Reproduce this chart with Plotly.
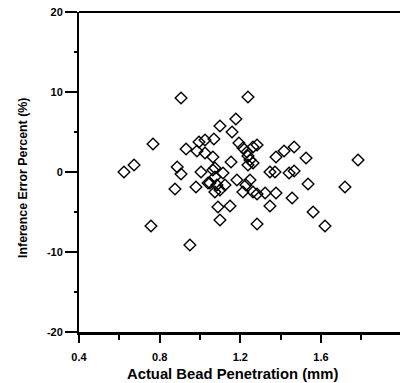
import plotly.graph_objects as go

penetration_mm = [0.623, 0.673, 0.767, 0.757, 0.906, 0.931, 0.887, 0.906, 0.876, 0.950,
                  0.980, 0.985, 0.995, 1.005, 1.025, 1.025, 1.040, 1.069, 1.099, 1.178,
                  1.159, 1.238, 1.193, 1.283, 1.263, 1.213, 1.233, 1.238, 1.248, 1.064,
                  1.154, 1.238, 1.263, 1.074, 1.064, 1.074, 1.114, 1.049, 1.084, 1.124,
                  1.099, 1.074, 1.183, 1.248, 1.228, 1.213, 1.263, 1.283, 1.323, 1.377,
                  1.347, 1.372, 1.442, 1.467, 1.467, 1.417, 1.377, 1.526, 1.784, 1.536,
                  1.719, 1.457, 1.347, 1.089, 1.149, 1.099, 1.283, 1.561, 1.620]
error_pct = [0.0, 0.875, 3.5, -6.75, 9.25, 2.875, 0.625, -0.25, -2.125, -9.125,
             -1.875, 2.625, 3.75, 0.0, 4.0, 2.375, -1.375, 4.125, 5.75, 6.625,
             5.0, 9.375, 3.625, 3.375, 3.125, 3.0, 2.5, 2.0, 1.5, 1.875,
             1.25, 0.875, 1.125, 0.5, 0.25, -0.625, -0.125, -1.375, -1.625, -1.625,
             -2.25, -2.5, -1.0, -1.0, -1.625, -2.5, -2.5, -2.75, -2.625, -2.625,
             0.0, 0.0, -0.125, 0.125, 3.125, 2.625, 1.875, 1.75, 1.5, -1.5,
             -1.875, -3.25, -4.25, -4.375, -4.25, -6.0, -6.5, -5.0, -6.75]

x_ticks = [0.4, 0.8, 1.2, 1.6]
y_ticks = [-20, -10, 0, 10, 20]
x_title = "Actual Bead Penetration (mm)"
y_title = "Inference Error Percent (%)"

fig = go.Figure()
fig.add_trace(go.Scatter(
    x=penetration_mm, y=error_pct, mode="markers",
    marker=dict(symbol="diamond-open", size=9, color="black", line=dict(width=1.4, color="black")),
    showlegend=False, cliponaxis=False,
))

font_bold = "Liberation Sans"
fig.update_layout(
    width=400, height=383,
    margin=dict(l=79, r=0, t=12, b=51),
    plot_bgcolor="white", paper_bgcolor="white",
    font=dict(family=font_bold, color="black"),
)
fig.update_xaxes(
    range=[0.4, 1.992], tickvals=x_ticks, ticktext=[f"<b>{v}</b>" for v in x_ticks],
    showline=True, linecolor="black", linewidth=2.5, mirror=False, automargin=False,
    ticks="outside", ticklen=8, tickwidth=2, tickcolor="black",
    ticklabelstandoff=5, ticklabeloverflow="allow",
    minor=dict(tickvals=[0.6, 1.0, 1.4, 1.8], ticks="outside", ticklen=5, tickwidth=1.5, tickcolor="black"),
    showgrid=False, zeroline=False,
    tickfont=dict(size=11, family=font_bold),
)
fig.update_yaxes(
    range=[-20, 20], tickvals=y_ticks, ticktext=[f"<b>{v}</b>" for v in y_ticks],
    showline=True, linecolor="black", linewidth=2, mirror=False, automargin=False,
    ticks="outside", ticklen=12, tickwidth=2, tickcolor="black", ticklabeloverflow="allow",
    minor=dict(tickvals=[-15, -5, 5, 15], ticks="outside", ticklen=3, tickwidth=1.5, tickcolor="black"),
    showgrid=False, zeroline=False,
    tickfont=dict(size=11, family=font_bold),
)
# top frame line
fig.add_shape(type="line", xref="paper", yref="paper", x0=0, x1=1, y0=1, y1=1,
              line=dict(color="black", width=2))
fig.add_annotation(text=f"<b>{x_title}</b>", xref="paper", yref="paper",
                   x=(232 - 79) / 321, y=(332 - 374) / 320, xanchor="center", yanchor="middle",
                   showarrow=False, font=dict(size=14.8, family=font_bold))
fig.add_annotation(text=f"<b>{y_title}</b>", xref="paper", yref="paper", textangle=-90,
                   x=(23 - 79) / 321, y=(332 - 178) / 320, xanchor="center", yanchor="middle",
                   showarrow=False, font=dict(size=12.4, family=font_bold))

fig.write_html("out.html", config={"displayModeBar": False},
               post_script="document.body.style.margin='0';document.body.style.overflow='hidden';")
